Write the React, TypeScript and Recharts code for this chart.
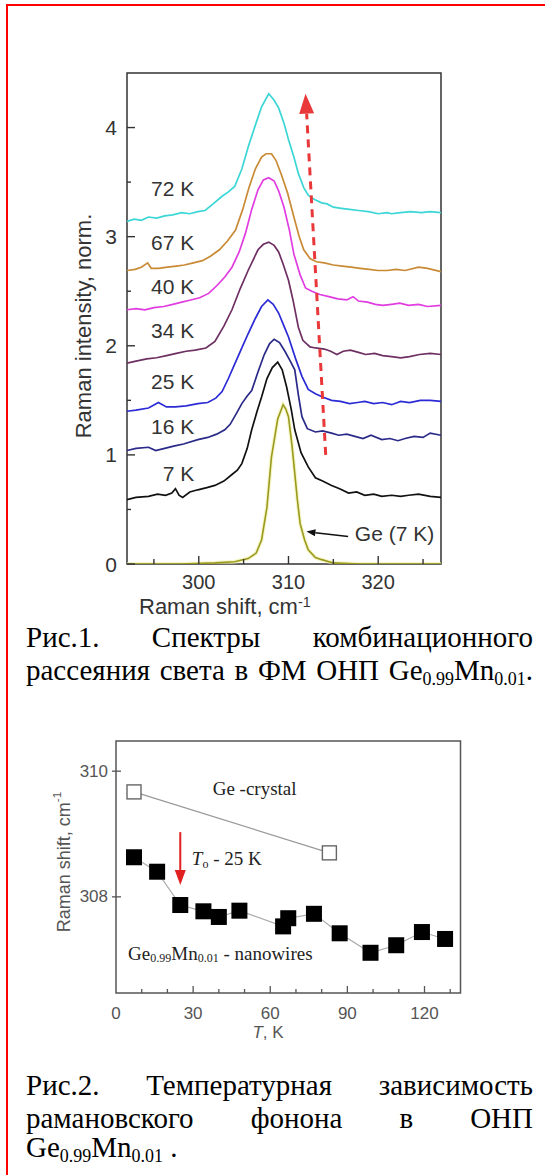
import React from 'react';
import { LineChart, Line, XAxis, YAxis, ReferenceArea, ReferenceLine, ReferenceDot } from 'recharts';

const SANS = '"Liberation Sans", Arial, sans-serif';
const SERIF = '"Liberation Serif", "Times New Roman", serif';

// ---------- Fig. 1 : Raman spectra (shift cm-1, normalized intensity incl. offset) ----------
const spec72K = [
  [292.0, 3.14], [292.8, 3.16], [293.6, 3.15], [294.4, 3.18], [295.3, 3.17], [296.2, 3.19], [297.1, 3.2],
  [298.1, 3.22], [299.0, 3.21], [299.9, 3.23], [300.7, 3.24], [301.6, 3.3], [302.6, 3.37], [303.3, 3.41],
  [304.0, 3.46], [304.8, 3.62], [305.5, 3.82], [306.3, 4.02], [307.0, 4.19], [307.8, 4.31], [308.4, 4.25],
  [308.9, 4.18], [309.5, 4.04], [310.0, 3.89], [310.6, 3.73], [311.1, 3.58], [311.7, 3.45], [312.2, 3.38],
  [312.9, 3.34], [313.7, 3.31], [314.3, 3.3], [315.0, 3.27], [315.9, 3.26], [316.8, 3.25], [317.8, 3.24],
  [318.9, 3.23], [320.0, 3.21], [321.0, 3.22], [321.5, 3.21], [322.5, 3.22], [323.6, 3.23], [324.8, 3.22],
  [325.8, 3.23], [327.0, 3.22],
];
const spec67K = [
  [292.0, 2.69], [292.9, 2.7], [293.6, 2.72], [294.3, 2.76], [294.7, 2.71], [295.5, 2.71], [296.5, 2.72],
  [297.5, 2.73], [298.4, 2.74], [299.4, 2.76], [300.4, 2.78], [301.3, 2.82], [302.3, 2.88], [303.2, 2.96],
  [304.1, 3.06], [304.9, 3.25], [305.6, 3.45], [306.3, 3.62], [307.0, 3.73], [307.5, 3.76], [308.1, 3.76],
  [308.6, 3.7], [309.2, 3.57], [309.9, 3.4], [310.6, 3.18], [311.2, 3.0], [311.7, 2.88], [312.4, 2.8],
  [313.1, 2.77], [314.0, 2.76], [315.0, 2.74], [316.0, 2.73], [317.0, 2.72], [318.0, 2.71], [319.0, 2.7],
  [320.0, 2.69], [321.0, 2.69], [322.0, 2.7], [323.0, 2.69], [324.5, 2.72], [325.5, 2.71], [327.0, 2.68],
];
const spec40K = [
  [292.0, 2.33], [293.0, 2.34], [294.0, 2.33], [295.0, 2.35], [296.1, 2.36], [297.1, 2.38], [298.1, 2.4],
  [299.1, 2.42], [300.1, 2.44], [301.1, 2.48], [302.0, 2.55], [302.9, 2.63], [303.7, 2.72], [304.5, 2.86],
  [305.2, 3.03], [305.9, 3.25], [306.6, 3.43], [307.2, 3.52], [307.8, 3.54], [308.4, 3.51], [308.9, 3.42],
  [309.5, 3.27], [310.1, 3.06], [310.6, 2.84], [311.3, 2.65], [311.9, 2.53], [312.6, 2.5], [313.5, 2.47],
  [314.5, 2.45], [315.5, 2.43], [316.5, 2.42], [317.2, 2.45], [317.8, 2.41], [318.8, 2.4], [319.7, 2.38],
  [320.5, 2.37], [321.5, 2.38], [322.4, 2.39], [323.4, 2.37], [324.5, 2.38], [325.5, 2.36], [327.0, 2.37],
];
const spec34K = [
  [292.0, 1.84], [293.0, 1.86], [294.2, 1.88], [295.3, 1.89], [296.4, 1.91], [297.5, 1.93], [298.6, 1.95],
  [299.6, 1.96], [300.8, 1.98], [301.8, 2.04], [302.8, 2.18], [303.7, 2.33], [304.6, 2.52], [305.5, 2.69],
  [306.6, 2.88], [307.2, 2.93], [307.8, 2.95], [308.4, 2.92], [308.9, 2.86], [309.4, 2.75], [310.0, 2.6],
  [310.5, 2.42], [311.1, 2.17], [311.6, 2.05], [312.4, 1.99], [313.0, 1.98], [314.0, 1.97], [314.7, 1.95],
  [315.4, 1.92], [316.1, 1.95], [316.9, 1.96], [317.8, 1.94], [318.6, 1.92], [319.6, 1.93], [320.5, 1.91],
  [321.5, 1.9], [322.5, 1.89], [323.5, 1.9], [324.6, 1.92], [325.8, 1.93], [327.0, 1.92],
];
const spec25K = [
  [292.0, 1.4], [293.0, 1.41], [294.4, 1.43], [295.5, 1.48], [296.4, 1.44], [297.4, 1.44], [298.6, 1.45],
  [299.9, 1.47], [301.0, 1.48], [301.9, 1.52], [302.6, 1.58], [303.3, 1.7], [304.1, 1.85], [304.8, 1.98],
  [305.5, 2.11], [306.3, 2.25], [307.0, 2.36], [307.7, 2.42], [308.3, 2.38], [308.9, 2.3], [309.5, 2.18],
  [310.0, 2.08], [310.8, 1.88], [311.5, 1.72], [312.2, 1.6], [313.0, 1.56], [313.8, 1.53], [314.8, 1.5],
  [315.8, 1.49], [316.8, 1.47], [317.7, 1.48], [318.5, 1.49], [319.5, 1.47], [320.5, 1.48], [321.5, 1.46],
  [322.5, 1.49], [323.5, 1.48], [324.7, 1.5], [325.8, 1.5], [327.0, 1.49],
];
const spec16K = [
  [292.0, 1.04], [293.0, 1.06], [294.4, 1.07], [295.2, 1.04], [296.2, 1.06], [297.2, 1.08], [298.3, 1.1],
  [299.9, 1.14], [301.0, 1.16], [302.0, 1.19], [302.9, 1.23], [303.5, 1.28], [304.2, 1.38], [304.8, 1.47],
  [305.4, 1.54], [305.9, 1.59], [306.6, 1.76], [307.3, 1.92], [307.9, 2.02], [308.4, 2.06], [309.0, 2.03],
  [309.6, 1.95], [310.2, 1.86], [310.7, 1.78], [311.1, 1.55], [311.5, 1.35], [312.1, 1.24], [313.0, 1.21],
  [313.8, 1.22], [314.8, 1.2], [315.6, 1.18], [316.5, 1.19], [317.4, 1.17], [318.3, 1.15], [319.2, 1.18],
  [320.4, 1.14], [321.3, 1.15], [322.2, 1.13], [323.0, 1.15], [324.0, 1.17], [325.0, 1.16], [325.8, 1.2],
  [327.0, 1.18],
];
const spec7K = [
  [292.0, 0.59], [293.0, 0.61], [294.4, 0.62], [295.4, 0.64], [296.3, 0.63], [297.0, 0.65], [297.4, 0.69],
  [297.8, 0.63], [298.2, 0.61], [299.0, 0.66], [299.9, 0.68], [300.9, 0.7], [301.8, 0.72], [302.8, 0.76],
  [303.7, 0.82], [304.3, 0.86], [304.8, 0.92], [305.4, 1.06], [305.9, 1.23], [306.5, 1.4], [307.0, 1.53],
  [307.6, 1.7], [308.2, 1.8], [308.8, 1.85], [309.3, 1.78], [309.8, 1.62], [310.3, 1.42], [310.7, 1.23],
  [311.4, 1.02], [312.2, 0.89], [313.0, 0.79], [313.8, 0.76], [314.8, 0.72], [315.7, 0.69], [316.7, 0.65],
  [317.6, 0.66], [318.5, 0.63], [319.5, 0.64], [320.4, 0.62], [321.5, 0.63], [322.5, 0.62], [323.4, 0.63],
  [324.5, 0.64], [325.8, 0.62], [327.0, 0.61],
];
const specGe7K = [
  [292.0, 0.0], [298.0, 0.0], [301.8, 0.01], [304.0, 0.02], [305.5, 0.05], [306.4, 0.1], [307.0, 0.22],
  [307.6, 0.52], [308.1, 0.98], [308.8, 1.33], [309.4, 1.46], [309.7, 1.42], [310.0, 1.35], [310.4, 1.08],
  [310.7, 0.83], [311.0, 0.58], [311.3, 0.37], [311.8, 0.22], [312.2, 0.13], [313.0, 0.06], [313.7, 0.04],
  [315.0, 0.01], [318.0, 0.0], [327.0, 0.0],
];

const spectraColors = ['#3cd6d6', '#c98a35', '#e03ce0', '#6e2f62', '#2b2bd6', '#2a2a88', '#111111'];
const spectraLabels = ['72 K', '67 K', '40 K', '34 K', '25 K', '16 K', '7 K'];
const spectraLabelY = [3.44, 2.95, 2.54, 2.14, 1.67, 1.26, 0.83];
const geLabel = 'Ge (7 K)';
const geColor = '#9a9a1e';

const fig1XTicks = [295, 300, 305, 310, 315, 320, 325];
const fig1YTicks = [0, 0.5, 1, 1.5, 2, 2.5, 3, 3.5, 4];

// ---------- Fig. 2 : phonon position vs temperature ----------
const nanoT = [7, 16, 25, 34, 40, 48, 65, 67, 77, 87, 99, 109, 119, 128];
const nanoShift = [308.63, 308.4, 307.87, 307.77, 307.68, 307.78, 307.53, 307.66, 307.73, 307.42, 307.11, 307.23, 307.44, 307.33];
const crystalT = [7, 83];
const crystalShift = [309.67, 308.7];
const fig2XTicks = [0, 10, 20, 30, 40, 50, 60, 70, 80, 90, 100, 110, 120, 130];
const fig2YTicks = [308, 310];

const toPts = (a: number[][]) => a.map(([x, y]) => ({ x, y }));
const spectra = [spec72K, spec67K, spec40K, spec34K, spec25K, spec16K, spec7K].map(toPts);
const gePts = toPts(specGe7K);
const nanoData = nanoT.map((t, i) => ({ t, s: nanoShift[i] }));
const crystalData = crystalT.map((t, i) => ({ t, s: crystalShift[i] }));

const makeArrow = (color: string, width: number, dash: string | undefined, headLen: number, headW: number) => (p: any) => {
  const { x1, y1, x2, y2 } = p;
  const dx = x2 - x1;
  const dy = y2 - y1;
  const L = Math.hypot(dx, dy) || 1;
  const ux = dx / L;
  const uy = dy / L;
  const bx = x2 - ux * headLen;
  const by = y2 - uy * headLen;
  const nx = -uy;
  const ny = ux;
  return (
    <g>
      <line x1={x1} y1={y1} x2={bx} y2={by} stroke={color} strokeWidth={width} strokeDasharray={dash} />
      <polygon
        points={`${x2},${y2} ${bx + (nx * headW) / 2},${by + (ny * headW) / 2} ${bx - (nx * headW) / 2},${by - (ny * headW) / 2}`}
        fill={color}
      />
    </g>
  );
};

const Fig1XTick = (props: any) => {
  const { x, y, payload } = props;
  const v = payload.value;
  const major = v % 10 === 0;
  return (
    <g>
      <line x1={x} y1={y} x2={x} y2={y - (major ? 8 : 5)} stroke="#333" strokeWidth={1.4} />
      {major && (
        <text x={x} y={y + 18} textAnchor="middle" dominantBaseline="central" fontSize={20} fill="#333" fontFamily={SANS}>
          {v}
        </text>
      )}
    </g>
  );
};

const Fig1YTick = (props: any) => {
  const { x, y, payload } = props;
  const v = payload.value;
  const major = Number.isInteger(v);
  return (
    <g>
      <line x1={x} y1={y} x2={x + (major ? 8 : 4)} y2={y} stroke="#333" strokeWidth={1.4} />
      {major && (
        <text x={x - 10} y={y} textAnchor="end" dominantBaseline="central" fontSize={21} fill="#333" fontFamily={SANS}>
          {v}
        </text>
      )}
    </g>
  );
};

const Fig2XTick = (props: any) => {
  const { x, y, payload } = props;
  const v = payload.value;
  const major = v % 30 === 0;
  return (
    <g>
      {v !== 0 && <line x1={x} y1={y} x2={x} y2={y - (major ? 7 : 4)} stroke="#555" strokeWidth={1.3} />}
      {major && (
        <text x={x} y={y + 20} textAnchor="middle" dominantBaseline="central" fontSize={17} fill="#555" fontFamily={SANS}>
          {v}
        </text>
      )}
    </g>
  );
};

const Fig2YTick = (props: any) => {
  const { x, y, payload } = props;
  const v = payload.value;
  return (
    <g>
      <line x1={x - 4} y1={y} x2={x + 5} y2={y} stroke="#555" strokeWidth={1.3} />
      <text x={x - 8} y={y} textAnchor="end" dominantBaseline="central" fontSize={17} fill="#555" fontFamily={SANS}>
        {v}
      </text>
    </g>
  );
};

const FilledSquare = (p: any) => (
  <rect key={`f${p.index}`} x={p.cx - 8} y={p.cy - 8} width={16} height={16} fill="#000" />
);
const OpenSquare = (p: any) => (
  <rect key={`o${p.index}`} x={p.cx - 7} y={p.cy - 7} width={14} height={14} fill="#fff" stroke="#666" strokeWidth={1.4} />
);

const textShape = (content: React.ReactNode, anchor: string, size: number, family: string, color = '#333') => (p: any) => (
  <text x={p.cx} y={p.cy} textAnchor={anchor} dominantBaseline="central" fontSize={size} fontFamily={family} fill={color}>
    {content}
  </text>
);

const captionLine: React.CSSProperties = {
  position: 'absolute',
  left: 26,
  width: 507,
  fontFamily: SERIF,
  fontSize: 29,
  lineHeight: '24px',
  color: '#000',
  whiteSpace: 'nowrap',
};
const justified: React.CSSProperties = { textAlign: 'justify', textAlignLast: 'justify', whiteSpace: 'normal' };
const sub: React.CSSProperties = { fontSize: '0.62em', position: 'relative', top: '0.28em' };
const supStyle: React.CSSProperties = { fontSize: '0.65em', verticalAlign: 'top', position: 'relative', top: '-0.05em' };

export default function App() {
  return (
    <div style={{ position: 'fixed', left: 0, top: 0, width: 545, height: 1175, overflow: 'hidden', background: '#fff' }}>
      <div
        style={{
          position: 'absolute', left: 6, top: 3.5, width: 560, height: 1200,
          borderTop: '2px solid #ff0000', borderLeft: '2px solid #ff0000',
        }}
      />

      {/* Fig. 1 */}
      <div style={{ position: 'absolute', left: 0, top: 0 }}>
        <LineChart width={545} height={640} margin={{ top: 73, right: 104, bottom: 36, left: 67 }}>
          <XAxis
            type="number" dataKey="x" domain={[292, 327]} allowDataOverflow ticks={fig1XTicks} interval={0}
            axisLine={false} tickLine={false} tickSize={0} tickMargin={0} height={40} tick={(p: any) => <Fig1XTick {...p} />}
          />
          <YAxis
            type="number" dataKey="y" domain={[0, 4.5]} allowDataOverflow ticks={fig1YTicks} interval={0}
            axisLine={false} tickLine={false} tickSize={0} tickMargin={0} width={60} tick={(p: any) => <Fig1YTick {...p} />}
          />
          <ReferenceArea x1={292} x2={327} y1={0} y2={4.5} fill="none" stroke="#333" strokeWidth={1.5} fillOpacity={0} />
          <Line data={gePts} dataKey="y" type="linear" stroke="#f0f0a8" strokeOpacity={0.6} strokeWidth={4} dot={false} isAnimationActive={false} />
          <Line data={gePts} dataKey="y" type="linear" stroke={geColor} strokeWidth={1.6} dot={false} isAnimationActive={false} />
          {spectra.map((d, i) => (
            <Line key={spectraLabels[i]} data={d} dataKey="y" type="linear" stroke={spectraColors[i]} strokeWidth={1.7} dot={false} isAnimationActive={false} />
          ))}
          {spectraLabels.map((lab, i) => (
            <ReferenceDot key={`l${lab}`} x={299.5} y={spectraLabelY[i]} r={0} shape={textShape(lab, 'end', 21, SANS)} />
          ))}
          <ReferenceDot x={317.4} y={0.28} r={0} shape={textShape(geLabel, 'start', 21, SANS)} />
          <ReferenceLine segment={[{ x: 316.65, y: 0.251 }, { x: 312.0, y: 0.297 }]} shape={makeArrow('#111', 1.5, undefined, 9, 7)} />
          <ReferenceLine segment={[{ x: 314.15, y: 1.0 }, { x: 311.9, y: 4.31 }]} shape={makeArrow('#e8383a', 3, '8 6', 20, 15)} />
        </LineChart>
      </div>
      <div
        style={{
          position: 'absolute', left: 84, top: 326, transform: 'translate(-50%, -50%) rotate(-90deg)',
          fontFamily: SANS, fontSize: 22, color: '#333', whiteSpace: 'nowrap',
        }}
      >
        Raman intensity, norm.
      </div>
      <div style={{ position: 'absolute', left: 139, top: 607, transform: 'translateY(-50%)', fontFamily: SANS, fontSize: 22, lineHeight: 1, color: '#333', whiteSpace: 'nowrap' }}>
        Raman shift, cm<sup style={supStyle}>-1</sup>
      </div>

      {/* Caption 1 */}
      <div style={{ ...captionLine, ...justified, top: 625 }}>Рис.1. Спектры комбинационного</div>
      <div style={{ ...captionLine, ...justified, top: 658 }}>
        рассеяния света в ФМ ОНП Ge<span style={sub}>0.99</span>Mn<span style={sub}>0.01</span>.
      </div>

      {/* Fig. 2 */}
      <div style={{ position: 'absolute', left: 0, top: 700 }}>
        <LineChart width={545} height={340} margin={{ top: 41, right: 84.5, bottom: 17, left: 56 }}>
          <XAxis
            type="number" dataKey="t" domain={[0, 134]} allowDataOverflow ticks={fig2XTicks} interval={0}
            axisLine={false} tickLine={false} tickSize={0} tickMargin={0} height={30} tick={(p: any) => <Fig2XTick {...p} />}
          />
          <YAxis
            type="number" dataKey="s" domain={[306.47, 310.48]} allowDataOverflow ticks={fig2YTicks} interval={0}
            axisLine={false} tickLine={false} tickSize={0} tickMargin={0} width={60} tick={(p: any) => <Fig2YTick {...p} />}
          />
          <ReferenceArea x1={0} x2={134} y1={306.47} y2={310.48} fill="none" stroke="#555" strokeWidth={1.5} fillOpacity={0} />
          <Line data={crystalData} dataKey="s" type="linear" stroke="#999" strokeWidth={1.2} dot={OpenSquare} isAnimationActive={false} />
          <Line data={nanoData} dataKey="s" type="linear" stroke="#aaa" strokeWidth={1.2} dot={FilledSquare} isAnimationActive={false} />
          <ReferenceLine segment={[{ x: 25, y: 309.03 }, { x: 25, y: 308.19 }]} shape={makeArrow('#e02020', 2, undefined, 15, 11)} />
          <ReferenceDot x={37.6} y={309.73} r={0} shape={textShape('Ge -crystal', 'start', 19, SERIF, '#222')} />
          <ReferenceDot
            x={29.5} y={308.62} r={0}
            shape={textShape(
              <>
                <tspan fontStyle="italic">T</tspan>
                <tspan fontSize={12} dy={6}>o</tspan>
                <tspan dy={-6}> - 25 K</tspan>
              </>,
              'start', 19, SERIF, '#222',
            )}
          />
          <ReferenceDot
            x={4.7} y={307.11} r={0}
            shape={textShape(
              <>
                <tspan>Ge</tspan>
                <tspan fontSize={12} dy={5}>0.99</tspan>
                <tspan dy={-5}>Mn</tspan>
                <tspan fontSize={12} dy={5}>0.01</tspan>
                <tspan dy={-5}> - nanowires</tspan>
              </>,
              'start', 19, SERIF, '#222',
            )}
          />
        </LineChart>
      </div>
      <div
        style={{
          position: 'absolute', left: 64, top: 862, transform: 'translate(-50%, -50%) rotate(-90deg)',
          fontFamily: SANS, fontSize: 18, color: '#555', whiteSpace: 'nowrap',
        }}
      >
        Raman shift, cm<sup style={{ fontSize: '0.65em', verticalAlign: 'top', position: 'relative', top: '-0.35em' }}>-1</sup>
      </div>
      <div style={{ position: 'absolute', left: 268, top: 1033, transform: 'translate(-50%, -50%)', fontFamily: SANS, fontSize: 17, color: '#555', whiteSpace: 'nowrap' }}>
        <i>T</i>, K
      </div>

      {/* Caption 2 */}
      <div style={{ ...captionLine, ...justified, top: 1073 }}>Рис.2. Температурная зависимость</div>
      <div style={{ ...captionLine, ...justified, top: 1106 }}>рамановского фонона в ОНП</div>
      <div style={{ ...captionLine, top: 1135 }}>
        Ge<span style={sub}>0.99</span>Mn<span style={sub}>0.01</span> .
      </div>
    </div>
  );
}
